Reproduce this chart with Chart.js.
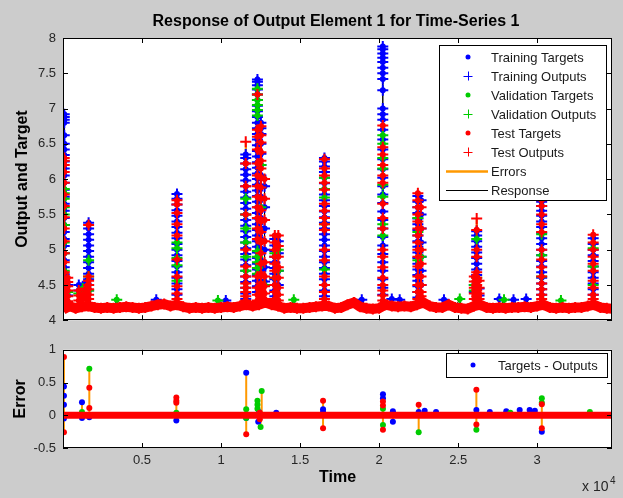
<!DOCTYPE html>
<html>
<head>
<meta charset="utf-8">
<title>Response of Output Element 1 for Time-Series 1</title>
<script src="https://cdn.jsdelivr.net/npm/chart.js@4.4.1/dist/chart.umd.min.js"></script>
<style>
  body { margin: 0; background: #cccccc; }
  #wrap { position: relative; width: 623px; height: 498px; }
  canvas { position: absolute; left: 0; }
  #responseChart { top: 0; }
  #errorChart { top: 335px; }
</style>
</head>
<body>
<div id="wrap">
  <canvas id="responseChart" width="623" height="335"></canvas>
  <canvas id="errorChart" width="623" height="163"></canvas>
</div>
<script>
Chart.defaults.font.family = "'Liberation Sans', Arial, sans-serif";
Chart.defaults.color = "#262626";
Chart.defaults.animation = false;

const BLUE = "#0000ff";
const GREEN = "#00cc00";
const RED = "#ff0000";
const ORANGE = "#ff9900";

// Axis ticks
const timeTicks = [5000, 10000, 15000, 20000, 25000, 30000];
const responseTicks = [4, 4.5, 5, 5.5, 6, 6.5, 7, 7.5, 8];
const errorTicks = [-0.5, 0, 0.5, 1];

const legendLabels = ["Training Targets", "Training Outputs", "Validation Targets", "Validation Outputs",
  "Test Targets", "Test Outputs", "Errors", "Response"];
const errorLegendLabel = "Targets - Outputs";

// Quiet baseline between the peaks, one sample every baseStep time steps
const baseStep = 400;
const baseLevels = [
  4.15, 4.2, 4.17, 4.19, 4.2, 4.18, 4.17, 4.18, 4.17, 4.18,
  4.19, 4.18, 4.17, 4.18, 4.2, 4.22, 4.23, 4.2, 4.22, 4.19,
  4.17, 4.18, 4.17, 4.18, 4.17, 4.18, 4.19, 4.18, 4.2, 4.22,
  4.2, 4.22, 4.25, 4.22, 4.2, 4.17, 4.18, 4.17, 4.17, 4.18,
  4.19, 4.2, 4.2, 4.17, 4.18, 4.22, 4.25, 4.19, 4.17, 4.16,
  4.17, 4.22, 4.2, 4.19, 4.2, 4.19, 4.22, 4.25, 4.2, 4.18,
  4.18, 4.22, 4.18, 4.17, 4.16, 4.2, 4.22, 4.18, 4.17, 4.18,
  4.17, 4.18, 4.18, 4.19, 4.18, 4.2, 4.22, 4.18, 4.17, 4.18,
  4.17, 4.18, 4.18, 4.2, 4.22, 4.18, 4.17, 4.16
];

// Time stamps of the peak columns
const peakTimes = [80, 300, 1000, 1250, 1450, 1620, 7210, 11560, 12300, 12520, 12750,
  13400, 13620, 16540, 20230, 22450, 22650, 26020, 26170, 26320, 30280, 33540];

const trainPeaks = [
  [6.92, 6.88, 6.84, 6.8, 6.62, 6.5, 6.42, 6.34, 6.25, 6.15, 6.05, 5.95, 5.85, 5.75, 5.65, 5.55, 5.45, 5.35, 5.25, 5.15, 5.05, 4.95, 4.85, 4.75, 4.65, 4.55, 4.45, 4.35, 4.25],
  [4.5, 4.35],
  [4.5, 4.42],
  [4.48, 4.38],
  [4.52, 4.45, 4.36],
  [5.38, 5.3, 5.22, 5.14, 5.06, 4.98, 4.9, 4.82, 4.74, 4.66, 4.58, 4.5, 4.42],
  [5.79, 5.72, 5.64, 5.56, 5.48, 5.4, 5.32, 5.24, 5.16, 5.08, 5.0, 4.92, 4.84, 4.76, 4.68, 4.6, 4.52, 4.44, 4.36],
  [6.35, 6.3, 6.22, 6.14, 6.06, 5.98, 5.9, 5.82, 5.74, 5.66, 5.58, 5.5, 5.42, 5.34, 5.26, 5.18, 5.1, 5.02, 4.94, 4.86, 4.78, 4.7, 4.62, 4.54, 4.46, 4.38, 4.3],
  [7.41, 7.38, 7.33, 7.27, 7.2, 7.12, 7.04, 6.96, 6.88, 6.8, 6.72, 6.64, 6.56, 6.48, 6.4, 6.32, 6.24, 6.16, 6.08, 6.0, 5.92, 5.84, 5.76, 5.68, 5.6, 5.52, 5.44, 5.36, 5.28, 5.2, 5.12, 5.04, 4.96, 4.88, 4.8, 4.72, 4.64, 4.56, 4.48, 4.4],
  [6.8, 6.72, 6.64, 6.5, 6.36, 6.2, 6.05, 5.9, 5.75, 5.6, 5.45, 5.3, 5.15, 5.0, 4.85, 4.7, 4.55, 4.4],
  [5.9, 5.6, 5.3, 5.0, 4.75, 4.55],
  [5.15, 5.06, 4.98, 4.9, 4.82, 4.74, 4.66, 4.58, 4.5, 4.42, 4.34],
  [5.12, 4.95, 4.7, 4.5],
  [6.3, 6.25, 6.18, 6.1, 6.02, 5.94, 5.86, 5.78, 5.7, 5.62, 5.54, 5.46, 5.38, 5.3, 5.22, 5.14, 5.06, 4.98, 4.9, 4.82, 4.74, 4.66, 4.58, 4.5, 4.42, 4.34],
  [7.88, 7.84, 7.78, 7.72, 7.66, 7.58, 7.5, 7.42, 7.26, 7.0, 6.92, 6.84, 6.7, 6.56, 6.42, 6.28, 6.14, 6.02, 5.9, 5.78, 5.66, 5.54, 5.42, 5.3, 5.18, 5.06, 4.94, 4.82, 4.7, 4.58, 4.46, 4.36],
  [5.76, 5.68, 5.6, 5.52, 5.44, 5.36, 5.28, 5.2, 5.12, 5.04, 4.96, 4.88, 4.8, 4.72, 4.64, 4.56, 4.48, 4.4, 4.32],
  [5.7, 5.5, 5.3, 5.1, 4.9, 4.7, 4.5],
  [4.5, 4.4],
  [5.26, 5.2, 5.12, 5.04, 4.96, 4.88, 4.8, 4.72, 4.64],
  [4.45, 4.35],
  [5.68, 5.62, 5.55, 5.48, 5.4, 5.32, 5.24, 5.16, 5.08, 5.0, 4.92, 4.84, 4.76, 4.68, 4.6, 4.52, 4.44, 4.36],
  [5.16, 5.08, 5.0, 4.92, 4.84, 4.76, 4.68, 4.6, 4.52, 4.44, 4.36]
];

const valPeaks = [
  [5.86, 5.8, 5.72, 5.6, 5.5, 5.35, 5.1, 4.95, 4.7, 4.52],
  [4.4],
  [4.38],
  [4.45, 4.32],
  [4.4],
  [4.85, 4.62, 4.42],
  [5.1, 5.02, 4.88, 4.78, 4.56],
  [5.72, 5.5, 5.3, 5.1, 4.9, 4.7],
  [7.28, 7.2, 7.12, 7.05, 6.98, 6.9, 4.98, 4.9, 4.82, 4.74, 4.66],
  [6.2, 5.6, 4.8],
  [4.5],
  [4.95, 4.6],
  [5.0, 4.7],
  [6.02, 5.86, 5.74, 5.36, 4.72],
  [6.62, 6.5, 6.3, 6.15, 5.92, 5.75, 5.36, 5.2],
  [5.45, 5.25, 4.85],
  [4.9],
  [4.5, 4.42],
  [5.15, 4.6],
  [],
  [5.22, 4.92, 4.62],
  [5.02, 4.76, 4.5]
];

const testPeaks = [
  [6.3, 6.26, 6.2, 6.1, 5.95, 5.78, 5.62, 5.46, 5.3, 5.12, 4.95, 4.82, 4.68, 4.58, 4.52, 4.46, 4.4, 4.34, 4.28],
  [4.6, 4.54, 4.48, 4.42, 4.34, 4.27],
  [4.42, 4.35, 4.28],
  [4.36, 4.3],
  [4.45, 4.38, 4.3],
  [5.35, 4.62, 4.56, 4.5, 4.44, 4.36, 4.3],
  [5.7, 5.64, 5.52, 5.36, 5.2, 4.86, 4.62, 4.48, 4.38, 4.3],
  [6.22, 5.9, 5.5, 5.0, 4.76, 4.62, 4.52, 4.46, 4.4, 4.34, 4.28],
  [7.2, 6.7, 6.6, 6.42, 6.22, 6.05, 5.9, 5.75, 5.6, 5.45, 5.3, 5.15, 4.62, 4.46, 4.36, 4.28],
  [6.75, 6.62, 6.52, 6.38, 6.26, 6.15, 6.02, 5.88, 5.72, 5.56, 5.4, 5.25, 5.1, 4.95, 4.8, 4.66, 4.52, 4.42, 4.32],
  [6.0, 5.72, 5.42, 5.12, 4.82, 4.62, 4.48, 4.38, 4.3],
  [5.2, 5.1, 5.0, 4.9, 4.8, 4.7, 4.6, 4.5, 4.4, 4.3],
  [5.2, 5.05, 4.9, 4.75, 4.6, 4.46, 4.36, 4.28],
  [6.28, 6.15, 6.05, 5.95, 5.85, 5.65, 5.55, 5.45, 5.36, 5.28, 5.0, 4.85, 4.62, 4.5, 4.4, 4.3],
  [6.76, 6.45, 6.35, 6.2, 6.05, 5.95, 5.65, 5.45, 5.3, 5.0, 4.9, 4.75, 4.6, 4.5, 4.42, 4.35, 4.28],
  [5.8, 5.7, 5.6, 5.5, 5.4, 5.3, 5.2, 5.1, 5.0, 4.9, 4.76, 4.62, 4.5, 4.4, 4.3],
  [5.6, 5.3, 5.0, 4.8, 4.62, 4.5, 4.4, 4.34, 4.28],
  [4.62, 4.55, 4.46, 4.38, 4.3],
  [5.28, 5.0, 4.9, 4.68, 4.6, 4.5, 4.42, 4.34],
  [4.56, 4.46, 4.38, 4.3],
  [5.7, 5.62, 5.5, 5.36, 5.25, 5.0, 4.86, 4.75, 4.62, 4.52, 4.44, 4.36, 4.3],
  [5.21, 5.1, 5.0, 4.9, 4.8, 4.7, 4.56, 4.46, 4.36, 4.3]
];

// Test samples where the output overshoots its target
const outlierTimes = [11560, 26170];
const outlierTargets = [6.22, 5.28];
const outlierOutputs = [6.53, 5.44];

// Training / validation samples poking out of the baseline
const trainSpecks = [[5900, 4.29], [10300, 4.28], [18900, 4.29], [20800, 4.3], [21300, 4.29],
  [24100, 4.29], [27600, 4.3], [28500, 4.29], [29300, 4.3]];
const valSpecks = [[3400, 4.29], [9800, 4.28], [14600, 4.29], [25100, 4.3], [27900, 4.29], [31500, 4.28]];

// Targets - Outputs, [time, error]
const trainErrors = [[60, 0.44], [60, 0.3], [60, 0.16], [60, -0.05], [1200, 0.2], [1200, -0.04], [1665, -0.03],
  [7170, -0.08], [11590, 0.65], [11590, -0.04], [12350, -0.1], [12400, 0.05], [13490, 0.04],
  [16450, 0.09], [16450, 0.05], [20240, 0.32], [20240, 0.26], [20870, 0.06], [20870, -0.1],
  [22500, 0.05], [22880, 0.07], [23600, 0.05], [26150, 0.08], [27000, 0.05], [28040, 0.06],
  [28890, 0.08], [29520, 0.08], [29850, 0.07], [30290, -0.25]];
const valErrors = [[1200, 0.05], [1665, 0.71], [7170, 0.04], [11590, 0.09], [11590, -0.04], [12300, 0.22],
  [12300, 0.16], [12300, 0.1], [12570, 0.37], [12500, -0.18], [20240, 0.1], [20240, -0.15],
  [22500, -0.26], [26150, -0.22], [28300, 0.04], [30290, 0.26], [30290, 0.19], [33330, 0.05]];
const testErrors = [[60, 0.89], [60, -0.26], [1665, 0.42], [1665, 0.11], [7170, 0.27], [7170, 0.22],
  [7170, 0.19], [11590, -0.29], [12450, -0.06], [12450, 0.04], [16450, 0.22], [16450, -0.2],
  [20240, 0.21], [20240, 0.15], [20240, -0.22], [22500, 0.16], [26150, 0.39], [26150, -0.14],
  [30290, 0.17], [30290, -0.2]];

// ---- point lists built from the values above ----
function columnPoints(times, cols) {
  const pts = [];
  cols.forEach((vals, i) => vals.forEach(v => pts.push({ x: times[i], y: v })));
  return pts;
}
const pairPoints = list => list.map(([x, y]) => ({ x, y }));

const basePoints = baseLevels.map((v, i) => ({ x: i * baseStep, y: v }));
const trainPoints = columnPoints(peakTimes, trainPeaks).concat(pairPoints(trainSpecks));
const valPoints = columnPoints(peakTimes, valPeaks).concat(pairPoints(valSpecks));
const testTargetPoints = basePoints.concat(columnPoints(peakTimes, testPeaks),
  outlierTimes.map((t, i) => ({ x: t, y: outlierTargets[i] })));
const testOutputPoints = basePoints.concat(columnPoints(peakTimes, testPeaks),
  outlierTimes.map((t, i) => ({ x: t, y: outlierOutputs[i] })));

// Response line: in time order, climbing each column and dropping back down
function responsePath(points) {
  const byTime = new Map();
  points.forEach(p => {
    if (!byTime.has(p.x)) byTime.set(p.x, []);
    byTime.get(p.x).push(p.y);
  });
  const path = [];
  [...byTime.keys()].sort((a, b) => a - b).forEach(t => {
    const ys = byTime.get(t).sort((a, b) => a - b);
    ys.forEach(y => path.push({ x: t, y }));
    if (ys.length > 1) path.push({ x: t, y: ys[0] });
  });
  return path;
}
const responsePoints = responsePath(trainPoints.concat(valPoints, testOutputPoints));

// Orange error segments between an outlier's target and output
const outlierSegments = [];
outlierTimes.forEach((t, i) => {
  outlierSegments.push({ x: t, y: outlierTargets[i] }, { x: t, y: outlierOutputs[i] }, { x: t, y: null });
});

// Error stems from zero to each error value
const errorStems = [];
trainErrors.concat(valErrors, testErrors).forEach(([t, e]) => {
  errorStems.push({ x: t, y: 0 }, { x: t, y: e }, { x: t, y: null });
});
// targets and outputs coincide along the baseline, so the error there is zero
const zeroBand = basePoints.map(p => ({ x: p.x, y: 0 }));

// ---- drawing helpers ----
function crossMarker(ctx, x, y, r, color) {
  ctx.strokeStyle = color;
  ctx.lineWidth = 1;
  ctx.beginPath();
  ctx.moveTo(x - r, y + 0.5); ctx.lineTo(x + r, y + 0.5);
  ctx.moveTo(x + 0.5, y - r); ctx.lineTo(x + 0.5, y + r);
  ctx.stroke();
}
function dotMarker(ctx, x, y, r, color) {
  ctx.fillStyle = color;
  ctx.beginPath();
  ctx.arc(x, y, r, 0, Math.PI * 2);
  ctx.fill();
}

// White plot area, box and inward tick marks on all four sides
const axesFrame = {
  id: "axesFrame",
  beforeDraw(chart) {
    const { ctx, chartArea: a } = chart;
    ctx.save();
    ctx.fillStyle = "#ffffff";
    ctx.fillRect(a.left, a.top, a.right - a.left, a.bottom - a.top);
    ctx.restore();
  },
  afterDatasetsDraw(chart) {
    const { ctx, chartArea: a, scales } = chart;
    const len = 5;
    ctx.save();
    ctx.strokeStyle = "#000000";
    ctx.lineWidth = 1;
    ctx.beginPath();
    scales.x.ticks.forEach(t => {
      const p = Math.round(scales.x.getPixelForValue(t.value)) + 0.5;
      ctx.moveTo(p, a.top); ctx.lineTo(p, a.top + len);
      ctx.moveTo(p, a.bottom); ctx.lineTo(p, a.bottom - len);
    });
    scales.y.ticks.forEach(t => {
      const p = Math.round(scales.y.getPixelForValue(t.value)) + 0.5;
      ctx.moveTo(a.left, p); ctx.lineTo(a.left + len, p);
      ctx.moveTo(a.right, p); ctx.lineTo(a.right - len, p);
    });
    ctx.stroke();
    ctx.strokeRect(Math.round(a.left) + 0.5, Math.round(a.top) + 0.5,
      Math.round(a.right - a.left) - 1, Math.round(a.bottom - a.top) - 1);
    ctx.restore();
  }
};

function drawLegendBox(ctx, x, y, w, h) {
  ctx.fillStyle = "#ffffff";
  ctx.fillRect(x, y, w, h);
  ctx.strokeStyle = "#000000";
  ctx.lineWidth = 1;
  ctx.strokeRect(x + 0.5, y + 0.5, w, h);
}

const responseDecor = {
  id: "responseDecor",
  afterDraw(chart) {
    const { ctx } = chart;
    ctx.save();
    ctx.fillStyle = "#000000";
    ctx.font = "bold 16px 'Liberation Sans', Arial, sans-serif";
    ctx.textAlign = "center";
    ctx.textBaseline = "alphabetic";
    ctx.fillText("Response of Output Element 1 for Time-Series 1", 336, 26);

    drawLegendBox(ctx, 439, 45, 167, 155);
    const kinds = ["dot", "cross", "dot", "cross", "dot", "cross", "line", "line"];
    const colors = [BLUE, BLUE, GREEN, GREEN, RED, RED, ORANGE, "#000000"];
    ctx.font = "13px 'Liberation Sans', Arial, sans-serif";
    ctx.textAlign = "left";
    ctx.textBaseline = "middle";
    legendLabels.forEach((label, i) => {
      const cy = 57 + i * 19;
      if (kinds[i] === "dot") dotMarker(ctx, 468, cy, 2.5, colors[i]);
      else if (kinds[i] === "cross") crossMarker(ctx, 468, cy, 4.5, colors[i]);
      else {
        ctx.strokeStyle = colors[i];
        ctx.lineWidth = i === 6 ? 2.5 : 1;
        ctx.beginPath();
        ctx.moveTo(446, cy + 0.5); ctx.lineTo(488, cy + 0.5);
        ctx.stroke();
      }
      ctx.fillStyle = "#1a1a1a";
      ctx.fillText(label, 491, cy + 1);
    });
    ctx.restore();
  }
};

const errorDecor = {
  id: "errorDecor",
  afterDraw(chart) {
    const { ctx } = chart;
    ctx.save();
    drawLegendBox(ctx, 446, 18, 161, 24);
    dotMarker(ctx, 473, 30, 2.5, BLUE);
    ctx.fillStyle = "#1a1a1a";
    ctx.font = "13px 'Liberation Sans', Arial, sans-serif";
    ctx.textBaseline = "middle";
    ctx.fillText(errorLegendLabel, 498, 31);

    ctx.fillStyle = "#262626";
    ctx.textBaseline = "alphabetic";
    ctx.font = "14px 'Liberation Sans', Arial, sans-serif";
    ctx.fillText("x 10", 582, 156);
    ctx.font = "10px 'Liberation Sans', Arial, sans-serif";
    ctx.fillText("4", 610, 149);
    ctx.restore();
  }
};

// ---- scales ----
function timeAxis(showLabels, height) {
  return {
    type: "linear",
    min: 0,
    max: 34730,
    afterBuildTicks: scale => { scale.ticks = timeTicks.map(v => ({ value: v })); },
    afterFit: scale => { scale.height = height; },
    grid: { display: false, drawTicks: false },
    border: { display: false },
    ticks: {
      display: showLabels,
      padding: 5,
      font: { size: 13 },
      callback: v => String(v / 10000)
    },
    title: {
      display: showLabels,
      text: "Time",
      color: "#000000",
      font: { size: 16, weight: "bold" },
      padding: { top: 0, bottom: 11 }
    }
  };
}

function valueAxis(min, max, ticks, label, titlePad) {
  return {
    type: "linear",
    min: min,
    max: max,
    afterBuildTicks: scale => { scale.ticks = ticks.map(v => ({ value: v })); },
    afterFit: scale => { scale.width = 63; },
    grid: { display: false, drawTicks: false },
    border: { display: false },
    ticks: { padding: 7, font: { size: 13 }, callback: v => String(v) },
    title: {
      display: true,
      text: label,
      color: "#000000",
      font: { size: 16, weight: "bold" },
      padding: { top: titlePad, bottom: 0 }
    }
  };
}

const targetStyle = color => ({
  pointStyle: "circle", pointRadius: 3, backgroundColor: color, borderColor: color, borderWidth: 0
});
const outputStyle = color => ({
  pointStyle: "cross", pointRadius: 5.5, borderColor: color, backgroundColor: color, borderWidth: 2
});

// ---- upper panel: targets and outputs ----
new Chart(document.getElementById("responseChart"), {
  type: "scatter",
  data: {
    datasets: [
      { label: "Response", data: responsePoints, showLine: true, borderColor: "#000000", borderWidth: 1, pointRadius: 0, order: 9 },
      { label: "Errors", data: outlierSegments, showLine: true, borderColor: ORANGE, borderWidth: 2, pointRadius: 0, order: 7 },
      { label: "Training Targets", data: trainPoints, ...targetStyle(BLUE), order: 6 },
      { label: "Training Outputs", data: trainPoints, ...outputStyle(BLUE), order: 5 },
      { label: "Validation Targets", data: valPoints, ...targetStyle(GREEN), order: 4 },
      { label: "Validation Outputs", data: valPoints, ...outputStyle(GREEN), order: 3 },
      // densely packed test samples along the baseline merge into a solid band
      { label: "Test band", data: basePoints, showLine: true, borderColor: RED, borderWidth: 10, pointRadius: 0, order: 2 },
      { label: "Test Targets", data: testTargetPoints, ...targetStyle(RED), order: 1 },
      { label: "Test Outputs", data: testOutputPoints, ...outputStyle(RED), order: 0 }
    ]
  },
  options: {
    responsive: false,
    events: [],
    clip: 0,
    layout: { padding: { top: 38, right: 11, bottom: 10, left: 0 } },
    scales: {
      x: timeAxis(false, 0),
      y: valueAxis(4, 8, responseTicks, "Output and Target", 13)
    },
    plugins: { legend: { display: false }, tooltip: { enabled: false } }
  },
  plugins: [axesFrame, responseDecor]
});

// ---- lower panel: errors ----
const errorStyle = color => ({
  pointStyle: "circle", pointRadius: 3, backgroundColor: color, borderColor: color, borderWidth: 0
});

new Chart(document.getElementById("errorChart"), {
  type: "scatter",
  data: {
    datasets: [
      { label: "Errors", data: errorStems, showLine: true, borderColor: ORANGE, borderWidth: 2, pointRadius: 0, order: 5 },
      { label: "Training", data: pairPoints(trainErrors), ...errorStyle(BLUE), order: 4 },
      { label: "Validation", data: pairPoints(valErrors), ...errorStyle(GREEN), order: 3 },
      { label: "Test", data: pairPoints(testErrors), ...errorStyle(RED), order: 2 },
      { label: "Baseline", data: zeroBand, showLine: true, borderColor: RED, borderWidth: 7, pointRadius: 0, order: 1 }
    ]
  },
  options: {
    responsive: false,
    events: [],
    clip: 0,
    layout: { padding: { top: 10, right: 11, bottom: 0, left: 0 } },
    scales: {
      x: timeAxis(true, 50),
      y: valueAxis(-0.5, 1, errorTicks, "Error", 11)
    },
    plugins: { legend: { display: false }, tooltip: { enabled: false } }
  },
  plugins: [axesFrame, errorDecor]
});
</script>
</body>
</html>
